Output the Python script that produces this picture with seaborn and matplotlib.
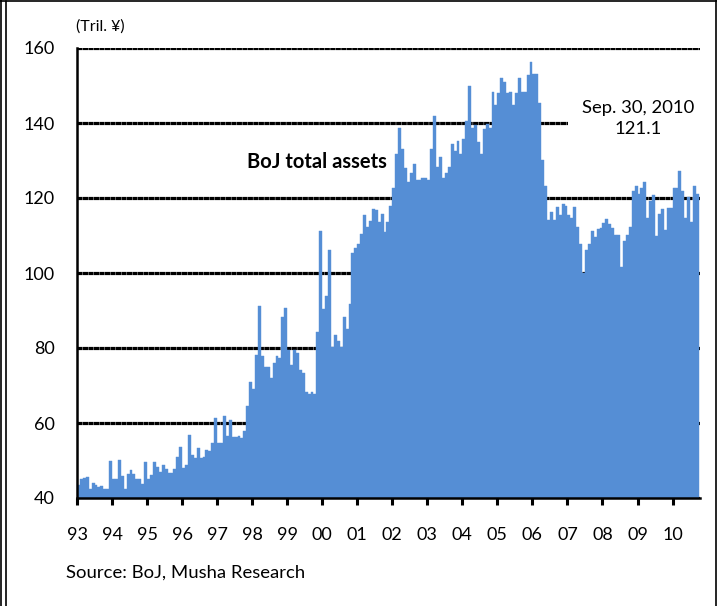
import matplotlib
matplotlib.use("Agg")
import matplotlib.pyplot as plt
from matplotlib.lines import Line2D
import seaborn as sns
import pandas as pd
import numpy as np

# ---- data (BoJ total assets, monthly, Jan 1993 - Sep 2010, trillion yen) ----
year_labels = ["93", "94", "95", "96", "97", "98", "99", "00", "01",
               "02", "03", "04", "05", "06", "07", "08", "09", "10"]

assets_1993 = [43.6, 45.0, 45.4, 45.6, 42.4, 44.0, 43.6, 43.0, 43.2, 42.5, 42.4, 49.8]
assets_1994 = [45.0, 45.2, 50.2, 46.0, 42.5, 46.5, 47.5, 46.5, 45.0, 45.0, 43.8, 49.6]
assets_1995 = [45.1, 46.2, 49.6, 48.2, 46.9, 48.8, 47.7, 46.7, 46.8, 47.8, 50.9, 53.6]
assets_1996 = [48.0, 48.9, 56.9, 51.5, 50.7, 53.3, 50.7, 50.9, 52.7, 52.5, 54.7, 61.3]
assets_1997 = [54.7, 54.7, 61.9, 56.5, 60.9, 56.2, 56.3, 56.6, 56.0, 57.9, 64.6, 70.9]
assets_1998 = [69.1, 78.2, 91.3, 78.0, 74.9, 74.9, 71.9, 76.0, 77.9, 77.3, 88.2, 90.8]
assets_1999 = [79.5, 75.5, 79.5, 78.7, 74.2, 73.3, 68.2, 67.7, 68.2, 67.8, 84.2, 111.3]
assets_2000 = [90.5, 94.0, 106.2, 80.4, 83.6, 82.0, 80.4, 88.2, 85.0, 91.8, 105.3, 106.7]
assets_2001 = [107.7, 110.4, 115.4, 112.4, 113.9, 117.1, 116.8, 113.6, 115.8, 110.9, 113.6, 117.8]
assets_2002 = [122.7, 131.7, 138.8, 133.0, 128.0, 124.4, 126.7, 129.1, 124.9, 124.9, 125.3, 125.3]
assets_2003 = [124.9, 133.1, 141.8, 128.4, 130.8, 125.3, 126.7, 128.4, 134.4, 132.6, 135.3, 131.7]
assets_2004 = [135.8, 140.6, 149.8, 138.7, 139.4, 134.9, 131.7, 138.5, 139.7, 138.8, 148.4, 144.9]
assets_2005 = [148.0, 152.0, 150.9, 148.0, 148.2, 144.9, 148.0, 152.0, 148.4, 148.4, 152.7, 156.3]
assets_2006 = [153.1, 153.1, 145.3, 130.2, 123.1, 114.2, 116.4, 114.2, 117.5, 115.5, 118.4, 118.0]
assets_2007 = [115.5, 114.8, 117.5, 112.4, 107.7, 100.0, 106.2, 107.7, 111.1, 109.5, 111.8, 112.0]
assets_2008 = [113.3, 114.5, 113.0, 112.0, 110.2, 110.2, 101.5, 108.6, 110.2, 112.4, 121.8, 123.1]
assets_2009 = [121.1, 122.7, 124.2, 114.7, 119.1, 120.9, 110.0, 115.7, 117.1, 111.5, 117.3, 117.3]
assets_2010 = [122.7, 122.7, 127.1, 121.8, 114.7, 120.2, 113.5, 123.1, 121.1]

yearly = [assets_1993, assets_1994, assets_1995, assets_1996, assets_1997, assets_1998,
          assets_1999, assets_2000, assets_2001, assets_2002, assets_2003, assets_2004,
          assets_2005, assets_2006, assets_2007, assets_2008, assets_2009, assets_2010]
total_assets = [v for year in yearly for v in year]

y_ticks = [40, 60, 80, 100, 120, 140, 160]

months = pd.date_range("1993-01-01", periods=len(total_assets), freq="MS")
df = pd.DataFrame({"month": months.strftime("%Y-%m"), "assets": total_assets})

# ---- style ----
sns.set_theme(style="white")
plt.rcParams["font.family"] = ["Lato", "DejaVu Sans"]

W, H = 717, 606
fig = plt.figure(figsize=(W / 100, H / 100), dpi=100)
fig.patch.set_facecolor("white")
ax = fig.add_axes([77 / W, 1 - 498 / H, (700 - 77) / W, (498 - 48) / H])

bar_color = "#558ED5"
sns.barplot(data=df, x="month", y="assets", color=bar_color, saturation=1,
            width=1.0, errorbar=None, linewidth=0.3, edgecolor=bar_color, ax=ax)

n = len(total_assets)
ax.set_xlim(-0.5, n - 0.5 + 0.4)
ax.set_ylim(40, 160)

# gridlines behind bars
ax.set_axisbelow(True)
ax.set_yticks(y_ticks)
ax.yaxis.grid(True, color="black", linewidth=2.3, linestyle=(0, (1.6, 0.12)))
ax.xaxis.grid(False)

# spines
for side in ["top", "right"]:
    ax.spines[side].set_visible(False)
for side in ["left", "bottom"]:
    ax.spines[side].set_visible(True)
    ax.spines[side].set_color("black")
    ax.spines[side].set_linewidth(1.8)
    ax.spines[side].set_zorder(5)

tick_pos = [-0.5 + 12 * k for k in range(len(year_labels))]
ax.set_xticks(tick_pos)
ax.set_xticklabels(year_labels)
ax.tick_params(axis="x", which="major", direction="out", length=5, width=2.2,
               color="black", pad=16, labelsize=13, labelcolor="black", bottom=True)
ax.tick_params(axis="y", which="major", length=0, pad=16, labelsize=13,
               labelcolor="black", left=True)
ax.set_xlabel("")
ax.set_ylabel("")

# texts
fig.text(76 / W, 1 - 27 / H, "(Tril. ¥)", ha="left", va="center", fontsize=11.5, color="black")
fig.text(66 / W, 1 - 573 / H, "Source: BoJ, Musha Research", ha="left", va="center",
         fontsize=13.3, color="black")

ax.text(57.8, 129.7, "BoJ total assets", ha="left", va="center", fontsize=14.5,
        fontweight="bold", color="black", zorder=6)
ax.text(191.8, 141.2, "Sep. 30, 2010\n121.1", ha="center", va="center", fontsize=13.3,
        linespacing=1.4, multialignment="center", color="black", zorder=2,
        bbox=dict(boxstyle="square,pad=0.75", facecolor="white", edgecolor="none"))

# figure frame
lw = 1.2
fig.add_artist(Line2D([1.0 / W, 1.0 / W], [0, 1], transform=fig.transFigure, color="black", lw=lw))
fig.add_artist(Line2D([6.0 / W, 6.0 / W], [0, 1 - 1 / H], transform=fig.transFigure, color="black", lw=lw))
fig.add_artist(Line2D([0, 1], [1 - 1.0 / H, 1 - 1.0 / H], transform=fig.transFigure, color="black", lw=lw))
fig.add_artist(Line2D([1 - 1.5 / W, 1 - 1.5 / W], [0, 1], transform=fig.transFigure, color="black", lw=lw))

fig.savefig("out.png", dpi=100)
